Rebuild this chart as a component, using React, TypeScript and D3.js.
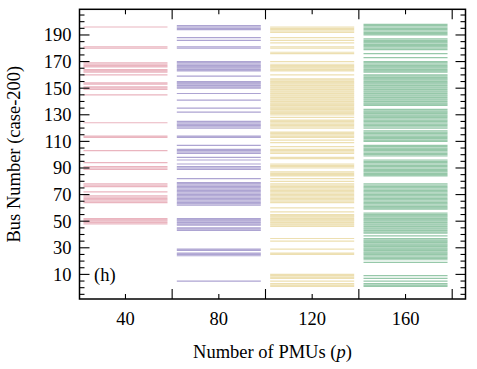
import React from 'react';
import * as d3 from 'd3';

// selected bus numbers per PMU budget
const pmuCounts = [40, 80, 120, 160];
const colors = ['#d9788a', '#6a5aad', '#dcc063', '#3f9b62'];
const opacities = [0.55, 0.55, 0.5, 0.55];

const buses40 = [48, 49, 50, 51, 52, 64, 65, 66, 67, 68, 69, 72, 76, 77, 78, 89, 90, 91, 94, 103, 113, 114, 124, 145, 149, 150, 151, 153, 154, 160, 162, 163, 164, 166, 167, 168, 169, 180, 181, 196];
const buses80 = [5, 24, 25, 26, 28, 29, 43, 44, 45, 47, 48, 49, 50, 51, 52, 62, 63, 64, 65, 66, 67, 68, 69, 70, 71, 72, 73, 74, 75, 76, 77, 78, 79, 82, 89, 90, 91, 93, 96, 98, 101, 102, 103, 104, 107, 113, 114, 120, 121, 122, 123, 124, 125, 132, 135, 141, 146, 150, 151, 152, 153, 154, 155, 159, 163, 164, 165, 166, 167, 168, 169, 170, 180, 181, 186, 188, 194, 195, 196, 197];
const buses120 = [1, 2, 3, 5, 7, 8, 9, 10, 25, 26, 29, 35, 37, 46, 47, 48, 49, 50, 51, 52, 53, 54, 55, 57, 60, 64, 65, 66, 67, 68, 69, 70, 71, 72, 73, 74, 75, 76, 77, 78, 80, 82, 84, 85, 86, 87, 90, 91, 92, 93, 97, 98, 101, 102, 103, 104, 106, 109, 111, 113, 114, 115, 116, 117, 120, 121, 122, 123, 124, 125, 126, 128, 130, 131, 132, 133, 134, 135, 136, 137, 138, 139, 140, 141, 142, 143, 144, 145, 146, 147, 148, 149, 150, 151, 152, 153, 154, 155, 156, 157, 160, 163, 164, 165, 166, 167, 168, 170, 176, 177, 180, 181, 184, 186, 188, 192, 193, 194, 195, 196];
const buses160 = [1, 2, 3, 5, 7, 9, 19, 21, 22, 23, 24, 25, 26, 27, 28, 29, 30, 31, 32, 33, 34, 35, 36, 37, 39, 41, 42, 43, 44, 45, 46, 47, 48, 49, 50, 51, 52, 53, 54, 55, 56, 59, 60, 61, 62, 63, 64, 65, 66, 67, 68, 69, 70, 71, 72, 73, 74, 75, 76, 77, 78, 84, 85, 86, 87, 88, 89, 90, 91, 92, 93, 94, 95, 96, 99, 100, 101, 102, 103, 104, 105, 106, 107, 110, 111, 112, 113, 114, 115, 116, 117, 118, 120, 121, 122, 123, 124, 125, 126, 127, 128, 129, 130, 131, 132, 133, 134, 137, 138, 139, 140, 141, 142, 143, 144, 145, 146, 147, 148, 149, 150, 151, 152, 153, 154, 155, 156, 157, 158, 159, 160, 162, 163, 164, 165, 166, 167, 168, 169, 170, 173, 176, 179, 180, 181, 182, 183, 184, 185, 186, 187, 190, 191, 192, 193, 194, 195, 196, 197, 198];

const selections = [buses40, buses80, buses120, buses160];

const yMajor = [10, 30, 50, 70, 90, 110, 130, 150, 170, 190];
const xMajorUnlabelled = [60, 100, 140, 180];

const W = 477;
const H = 369;
const left = 79.5, right = 465.5, top = 9.3, bottom = 299;

const App = () => {
  const x = d3.scaleLinear().domain([20.3, 185.7]).range([left, right]);
  const y = d3.scaleLinear().domain([-8.5, 209.3]).range([bottom, top]);

  const yMinor = d3.range(-5, 209, 5).filter((v) => !yMajor.includes(v));
  const font = '"Liberation Serif", "Times New Roman", serif';

  const tickW = 1.1;
  const majLen = 10;
  const minLen = 5;
  const fs = 18.5;

  return (
    <svg width={W} height={H} style={{ position: 'absolute', left: 0, top: 0, background: '#fff' }} fontFamily={font}>
      {/* bus lines */}
      {selections.map((buses, i) => (
        <g key={i} stroke={colors[i]} strokeOpacity={opacities[i]} strokeWidth={1.2}>
          {buses.map((b) => (
            <line key={b} x1={x(pmuCounts[i] - 18)} x2={x(pmuCounts[i] + 18)} y1={y(b)} y2={y(b)} />
          ))}
        </g>
      ))}

      {/* ticks */}
      <g stroke="#000" strokeWidth={tickW}>
        {yMajor.map((v) => (
          <g key={'ym' + v}>
            <line x1={left} x2={left + majLen} y1={y(v)} y2={y(v)} />
            <line x1={right} x2={right - majLen} y1={y(v)} y2={y(v)} />
          </g>
        ))}
        {yMinor.map((v) => (
          <g key={'yn' + v}>
            <line x1={left} x2={left + minLen} y1={y(v)} y2={y(v)} />
            <line x1={right} x2={right - minLen} y1={y(v)} y2={y(v)} />
          </g>
        ))}
        {xMajorUnlabelled.map((v) => (
          <g key={'xm' + v}>
            <line x1={x(v)} x2={x(v)} y1={bottom} y2={bottom - majLen} />
            <line x1={x(v)} x2={x(v)} y1={top} y2={top + majLen} />
          </g>
        ))}
        {pmuCounts.map((v) => (
          <g key={'xn' + v}>
            <line x1={x(v)} x2={x(v)} y1={bottom} y2={bottom - minLen} />
            <line x1={x(v)} x2={x(v)} y1={top} y2={top + minLen} />
          </g>
        ))}
      </g>

      {/* frame */}
      <rect x={left} y={top} width={right - left} height={bottom - top} fill="none" stroke="#000" strokeWidth={1.5} />

      {/* tick labels */}
      <g fontSize={fs} fill="#000">
        {yMajor.map((v) => (
          <text key={v} x={left - 8} y={y(v)} dy="0.35em" textAnchor="end">
            {v}
          </text>
        ))}
        {pmuCounts.map((v) => (
          <text key={v} x={x(v)} y={bottom + 26} textAnchor="middle">
            {v}
          </text>
        ))}
      </g>

      <text x={94} y={y(10)} dy="0.35em" fontSize={fs}>
        (h)
      </text>

      <text x={(left + right) / 2} y={358} fontSize={fs} textAnchor="middle">
        Number of PMUs (<tspan fontStyle="italic">p</tspan>)
      </text>
      <text transform={`translate(20, ${(top + bottom) / 2}) rotate(-90)`} fontSize={fs} textAnchor="middle">
        Bus Number (case-200)
      </text>
    </svg>
  );
};

export default App;
